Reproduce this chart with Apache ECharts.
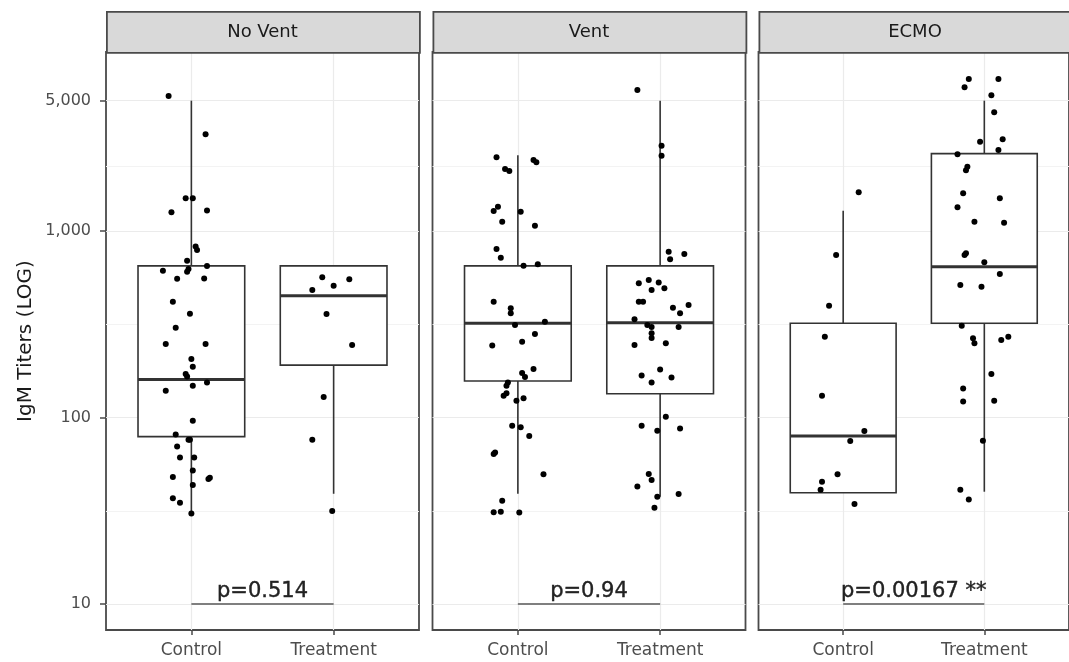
<!DOCTYPE html>
<html><head><meta charset="utf-8">
<script src="https://cdn.jsdelivr.net/npm/echarts@6/dist/echarts.min.js"></script>
<style>html,body{margin:0;padding:0;background:#fff}#c{width:1069px;height:662px}</style>
</head><body><div id="c"></div>
<script>
const panels = ['No Vent', 'Vent', 'ECMO'];
const groups = ['Control', 'Treatment'];
const yTicks = [10, 100, 1000, 5000];
const yMinorTicks = [31.6, 316, 2236];
const yRange = [7.254, 9117];
const pLabels = ['p=0.514', 'p=0.94', 'p=0.00167 **'];
const pLineValue = 10;

// box statistics: [lower whisker, Q1, median, Q3, upper whisker]
const noVentControlBox = [30.6, 79, 160, 650, 5000];
const noVentTreatmentBox = [39, 191, 450, 650, 650];
const ventControlBox = [39, 157, 320, 650, 2550];
const ventTreatmentBox = [37.6, 134, 322, 650, 5000];
const ecmoControlBox = [39.5, 39.5, 79.6, 320, 1284];
const ecmoTreatmentBox = [40, 320, 643, 2600, 5000];

// jittered points: titer values and horizontal jitter (in category units)
const noVentControlValues = [5300, 3300, 1500, 1500, 1260, 1290, 825, 790, 693, 613, 605, 625, 650, 555, 557, 418, 360, 303, 248, 248, 206, 187, 171, 166, 154, 148, 139, 96, 81, 76, 76, 70, 61, 61, 52, 48, 47.5, 46.8, 43.5, 36.9, 34.9, 30.6];
const noVentControlJitter = [-0.16, 0.10, -0.04, 0.01, -0.14, 0.11, 0.03, 0.04, -0.03, -0.20, -0.03, -0.02, 0.11, -0.10, 0.09, -0.13, -0.01, -0.11, -0.18, 0.10, 0.00, 0.01, -0.04, -0.03, 0.11, 0.01, -0.18, 0.01, -0.11, -0.02, -0.01, -0.10, -0.08, 0.02, 0.01, -0.13, 0.13, 0.12, 0.01, -0.13, -0.08, 0.00];
const noVentTreatmentValues = [565, 551, 509, 483, 359, 245, 129, 76, 31.5];
const noVentTreatmentJitter = [-0.08, 0.11, 0.00, -0.15, -0.05, 0.13, -0.07, -0.15, -0.01];
const ventControlValues = [2484, 2150, 2098, 2403, 2335, 1350, 1280, 1270, 1122, 1067, 801, 719, 652, 663, 418, 385, 362, 313, 326, 280, 243, 255, 173, 165, 182, 154, 148, 131, 135, 123, 127, 90.4, 88.6, 79.6, 65, 63.7, 49.6, 35.8, 31, 31.2, 30.9];
const ventControlJitter = [-0.15, -0.09, -0.06, 0.11, 0.13, -0.14, -0.17, 0.02, -0.11, 0.12, -0.15, -0.12, 0.04, 0.14, -0.17, -0.05, -0.05, -0.02, 0.19, 0.12, -0.18, 0.03, 0.03, 0.05, 0.11, -0.07, -0.08, -0.10, -0.08, -0.01, 0.04, -0.04, 0.02, 0.08, -0.16, -0.17, 0.18, -0.11, -0.17, -0.12, 0.01];
const ventTreatmentValues = [5700, 2866, 2535, 774, 706, 753, 525, 546, 530, 483, 493, 418, 418, 388, 362, 401, 336, 313, 306, 306, 283, 267, 245, 250, 168, 154, 181, 164, 101, 90.4, 84.9, 87.4, 49.8, 46.2, 42.6, 37.6, 38.9, 32.8];
const ventTreatmentJitter = [-0.16, 0.01, 0.01, 0.06, 0.07, 0.17, -0.15, -0.08, -0.01, -0.06, 0.03, -0.15, -0.12, 0.09, 0.14, 0.20, -0.18, -0.09, -0.06, 0.13, -0.06, -0.06, -0.18, 0.04, -0.13, -0.06, 0.00, 0.08, 0.04, -0.13, -0.02, 0.14, -0.08, -0.06, -0.16, -0.02, 0.13, -0.04];
const ecmoControlValues = [1612, 744, 398, 271, 131, 84.7, 74.8, 49.6, 45.3, 41, 34.4];
const ecmoControlJitter = [0.11, -0.05, -0.10, -0.13, -0.15, 0.15, 0.05, -0.04, -0.15, -0.16, 0.08];
const ecmoTreatmentValues = [6530, 5900, 6530, 5340, 4330, 3010, 3100, 2718, 2577, 2212, 2120, 1592, 1497, 1340, 1122, 1108, 744, 759, 680, 588, 513, 503, 310, 266, 250, 260, 271, 171, 143, 122, 123, 75, 41, 36.3];
const ecmoTreatmentJitter = [-0.11, -0.14, 0.10, 0.05, 0.07, -0.03, 0.13, 0.10, -0.19, -0.12, -0.13, -0.15, 0.11, -0.19, -0.07, 0.14, -0.14, -0.13, 0.00, 0.11, -0.17, -0.02, -0.16, -0.08, -0.07, 0.12, 0.17, 0.05, -0.15, -0.15, 0.07, -0.01, -0.17, -0.11];

const panelBoxes = [[noVentControlBox, noVentTreatmentBox], [ventControlBox, ventTreatmentBox], [ecmoControlBox, ecmoTreatmentBox]];
const panelPoints = [
  [[noVentControlValues, noVentControlJitter], [noVentTreatmentValues, noVentTreatmentJitter]],
  [[ventControlValues, ventControlJitter], [ventTreatmentValues, ventTreatmentJitter]],
  [[ecmoControlValues, ecmoControlJitter], [ecmoTreatmentValues, ecmoTreatmentJitter]]
];

// layout
const FONT = 'DejaVu Sans';
const gridLefts = [106, 432.5, 758.5];
const gridW = 313, gridTop = 52, gridH = 578;
const stripTop = 11;
const border = '#4a4a4a';
const boxLine = '#333333';

const chart = echarts.init(document.getElementById('c'), null, {renderer: 'canvas'});

const grids = [], xAxes = [], yAxes = [], series = [], graphics = [];

function fmt(v) { return Number(v).toLocaleString('en-US'); }

function boxRender(params, api) {
  const x = api.value(0);
  const mn = api.value(1), q1 = api.value(2), md = api.value(3), q3 = api.value(4), mx = api.value(5);
  const tl = api.coord([x - 0.375, q3]);
  const br = api.coord([x + 0.375, q1]);
  const c = api.coord([x, md]);
  const pMin = api.coord([x, mn]);
  const pMax = api.coord([x, mx]);
  const ls = {stroke: boxLine, lineWidth: 1.6, fill: null};
  return {type: 'group', children: [
    {type: 'line', shape: {x1: c[0], y1: pMax[1], x2: c[0], y2: tl[1]}, style: ls},
    {type: 'line', shape: {x1: c[0], y1: br[1], x2: c[0], y2: pMin[1]}, style: ls},
    {type: 'rect', shape: {x: tl[0], y: tl[1], width: br[0] - tl[0], height: br[1] - tl[1]}, style: {fill: '#fff', stroke: boxLine, lineWidth: 1.6}},
    {type: 'line', shape: {x1: tl[0], y1: c[1], x2: br[0], y2: c[1]}, style: {stroke: boxLine, lineWidth: 3}}
  ]};
}

panels.forEach((name, i) => {
  grids.push({left: gridLefts[i], top: gridTop, width: gridW, height: gridH, show: true,
    borderColor: border, borderWidth: 1.8, backgroundColor: '#fff', containLabel: false});
  xAxes.push({type: 'value', gridIndex: i, min: 0.4, max: 2.6,
    axisLine: {show: false},
    axisTick: {show: true, customValues: [1, 2], length: 5, lineStyle: {color: border, width: 1.5}},
    axisLabel: {show: true, customValues: [1, 2], formatter: v => groups[Math.round(v) - 1],
      fontFamily: FONT, fontSize: 17, color: '#4d4d4d', margin: 12},
    splitLine: {show: true, lineStyle: {color: '#ebebeb', width: 1.2}}
  });
  yAxes.push({type: 'log', logBase: 10, gridIndex: i, min: yRange[0], max: yRange[1],
    name: i === 0 ? 'IgM Titers (LOG)' : '', nameLocation: 'middle', nameGap: 70,
    nameTextStyle: {fontFamily: FONT, fontSize: 20, color: '#1a1a1a'},
    axisLine: {show: false},
    axisTick: {show: i === 0, customValues: yTicks, length: 6, lineStyle: {color: border, width: 1.5}},
    axisLabel: {show: i === 0, customValues: yTicks, formatter: fmt, fontFamily: FONT, fontSize: 16, color: '#4d4d4d', margin: 15},
    splitLine: {show: true, lineStyle: {color: '#ebebeb', width: 1.2}}
  });
  yAxes.push({type: 'log', logBase: 10, gridIndex: i, min: yRange[0], max: yRange[1], position: 'left',
    axisLine: {show: false}, axisTick: {show: false, customValues: yMinorTicks},
    axisLabel: {show: false, customValues: yMinorTicks},
    splitLine: {show: true, lineStyle: {color: '#f3f3f3', width: 1}}
  });

  const boxes = panelBoxes[i];
  series.push({type: 'custom', xAxisIndex: i, yAxisIndex: 2 * i, z: 2,
    renderItem: boxRender, encode: {x: 0, y: [1, 2, 3, 4, 5]},
    data: boxes.map((b, g) => [g + 1].concat(b)), silent: true});

  const pts = [];
  panelPoints[i].forEach((pair, g) => {
    pair[0].forEach((v, k) => pts.push([g + 1 + pair[1][k], v]));
  });
  series.push({type: 'scatter', xAxisIndex: i, yAxisIndex: 2 * i, z: 3,
    symbol: 'circle', symbolSize: 6, itemStyle: {color: '#000', opacity: 1}, data: pts, silent: true});

  series.push({type: 'line', xAxisIndex: i, yAxisIndex: 2 * i, z: 4, symbol: 'none',
    lineStyle: {color: '#7f7f7f', width: 2.2}, data: [[1, pLineValue], [2, pLineValue]], silent: true});
  series.push({type: 'scatter', xAxisIndex: i, yAxisIndex: 2 * i, z: 5, symbolSize: 0,
    itemStyle: {opacity: 1},
    data: [[1.5, pLineValue]], silent: true,
    label: {show: true, position: 'top', distance: 2, formatter: pLabels[i],
      fontFamily: FONT, fontSize: 21, color: '#222', textBorderColor: '#222', textBorderWidth: 0.4}});

  graphics.push({type: 'rect', left: gridLefts[i], top: stripTop,
    shape: {width: gridW, height: gridTop - stripTop},
    style: {fill: '#d9d9d9', stroke: border, lineWidth: 1.8}, z: 10});
  graphics.push({type: 'text', x: gridLefts[i] + gridW / 2, y: (stripTop + gridTop) / 2 + 1,
    style: {text: name, fontFamily: FONT, fontSize: 18, fill: '#1a1a1a', align: 'center', verticalAlign: 'middle'}, z: 11});
});

chart.setOption({
  animation: false,
  backgroundColor: '#fff',
  grid: grids, xAxis: xAxes, yAxis: yAxes, series: series, graphic: graphics
});
</script></body></html>
